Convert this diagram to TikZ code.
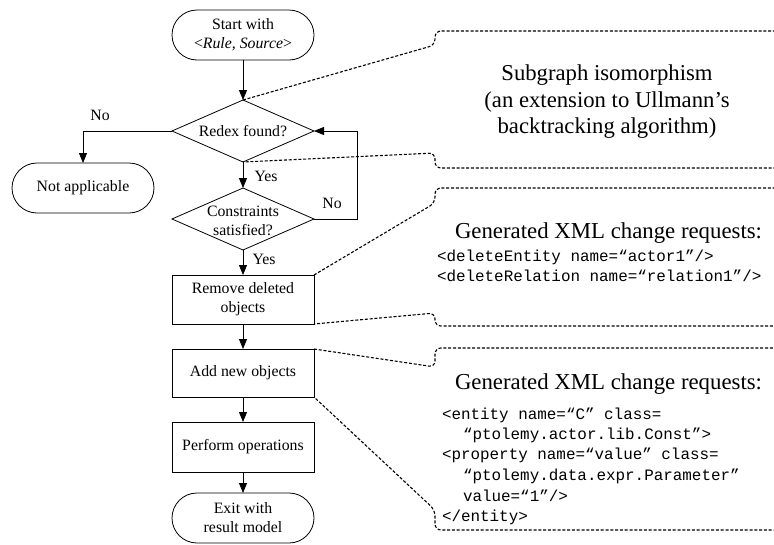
\documentclass[tikz,border=0pt]{standalone}
\usepackage{fontspec}
\setmainfont{Liberation Serif}
\setmonofont{Liberation Mono}
\usetikzlibrary{shapes.geometric,arrows.meta}
\begin{document}
\begin{tikzpicture}[x=1pt,y=-1pt,
  every node/.style={inner sep=0pt, outer sep=0pt},
  flow/.style={font=\fontsize{15.8}{19}\selectfont},
  term/.style={draw, line width=0.8pt, rectangle, rounded corners=25pt, minimum width=142pt, minimum height=50pt, align=center, flow},
  proc/.style={draw, line width=0.8pt, rectangle, minimum width=142pt, minimum height=49pt, align=center, flow},
  dia/.style={draw, line width=0.8pt, diamond, minimum width=142pt, minimum height=62pt},
  arr/.style={line width=0.8pt, -{Triangle[length=10pt,width=8pt]}},
  callout/.style={line width=1.1pt, dash pattern=on 3pt off 1.8pt, rounded corners=6pt},
  lbl/.style={flow},
  big/.style={font=\fontsize{22.7}{26.5}\selectfont, align=center},
  head/.style={font=\fontsize{22.8}{26}\selectfont, anchor=base west},
  mono/.style={font=\ttfamily\fontsize{15.9}{20}\selectfont, anchor=base west},
]
\useasboundingbox (0,0) rectangle (774,544);
\clip (0,0) rectangle (774,544);

% flowchart nodes
\node[term] (start) at (243,35) {Start with\\\textless\textit{Rule, Source}\textgreater};
\node[dia] (d1) at (243,131) {};
\node[flow] (d1t) at (243,131) {Redex found?};
\node[term] (na) at (83,188) {Not applicable};
\node[dia] (d2) at (243,219) {};
\node[flow, align=center] (d2t) at (243,221) {Constraints\\satisfied?};
\node[proc] (rem) at (243,299.5) {Remove deleted\\objects};
\node[proc, minimum height=48pt] (add) at (243,373) {Add new objects};
\node[proc, minimum height=50pt] (perf) at (243,447) {Perform operations};
\node[term] (exit) at (243,518) {Exit with\\result model};

% connectors
\draw[arr] (start.south) -- (d1.north);
\draw[arr] (d1.west) -| (na.north);
\draw[arr] (d1.south) -- (d2.north);
\coordinate (lp) at (357,219);
\draw[arr] (d2.east) -- (lp) |- (d1.east);
\draw[arr] (d2.south) -- (rem.north);
\draw[arr] (rem.south) -- (add.north);
\draw[arr] (add.south) -- (perf.north);
\draw[arr] (perf.south) -- (exit.north);

% labels
\node[lbl] (no1) at (100,115) {No};
\node[lbl] (yes1) at (266,176) {Yes};
\node[lbl] (no2) at (332,203) {No};
\node[lbl] (yes2) at (264,259) {Yes};

% callouts
\draw[callout] (d1.north) -- (435,45) -- (435,31) -- (800,31) -- (800,168) -- (435,168) -- (435,153) -- (d1.south);
\draw[callout] (rem.north east) -- (435,203) -- (435,188) -- (800,188) -- (800,326) -- (435,326) -- (435,313) -- (rem.south east);
\draw[callout] (add.north east) -- (435,367) -- (435,348) -- (800,348) -- (800,530) -- (435,530) -- (435,510) -- (add.south east);

% callout texts
\node[big] (c1) at (607,102) {Subgraph isomorphism\\(an extension to Ullmann’s\\backtracking algorithm)};

\node[head] (c2h) at (455,238) {Generated XML change requests:};
\node[mono] (c2a) at (437,261) {<deleteEntity name=“actor1”/>};
\node[mono] (c2b) at (437,281) {<deleteRelation name=“relation1”/>};

\node[head] (c3h) at (455,389) {Generated XML change requests:};
\node[mono] (c3a) at (442,419) {<entity name=“C” class=};
\node[mono] (c3b) at (463,439) {“ptolemy.actor.lib.Const”>};
\node[mono] (c3c) at (442,459) {<property name=“value” class=};
\node[mono] (c3d) at (463,480) {“ptolemy.data.expr.Parameter”};
\node[mono] (c3e) at (463,501) {value=“1”/>};
\node[mono] (c3f) at (442,521) {</entity>};
\end{tikzpicture}
\end{document}
